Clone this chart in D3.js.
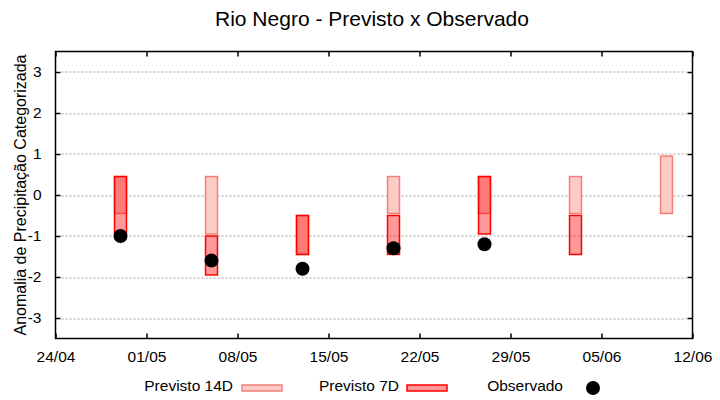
<!DOCTYPE html>
<html>
<head>
<meta charset="utf-8">
<script src="https://cdn.jsdelivr.net/npm/d3@7"></script>
<style>
  body { margin: 0; background: #fff; }
  text { font-family: "Liberation Sans", Arial, sans-serif; fill: #000; }
</style>
</head>
<body>
<div id="chart-wrapper"></div>
<script>
// data
var dates = ['2024-04-29', '2024-05-06', '2024-05-13', '2024-05-20', '2024-05-27', '2024-06-03', '2024-06-10'];
var p14_low  = [-0.45, -0.95, -1.45, -0.45, -0.45, -0.45, -0.45];
var p14_high = [ 0.45,  0.45, -0.5,   0.45,  0.45,  0.45,  0.95];
var p7_low   = [-0.95, -1.95, -1.45, -1.45, -0.95, -1.45, null];
var p7_high  = [ 0.45, -1.0,  -0.5,  -0.5,   0.45, -0.5,  null];
var observed = [-1.0, -1.6, -1.8, -1.3, -1.2, null, null];
var x_ticks = ['2024-04-24', '2024-05-01', '2024-05-08', '2024-05-15', '2024-05-22', '2024-05-29', '2024-06-05', '2024-06-12'];
var y_ticks = [-3, -2, -1, 0, 1, 2, 3];

var total_width = 720, total_height = 400;
var margin = {top: 51.5, right: 27.5, bottom: 61.5, left: 55.5};
var draw_width = total_width - margin.left - margin.right;
var draw_height = total_height - margin.top - margin.bottom;
var tick_len = 5;
var half_day = 0.46; // half box width, in days

var parse = d3.timeParse('%Y-%m-%d');
var day = 24 * 3600 * 1000;

var svg = d3.select('#chart-wrapper').append('svg')
    .attr('width', total_width)
    .attr('height', total_height);

var scale_x = d3.scaleTime()
    .domain([parse(x_ticks[0]), parse(x_ticks[x_ticks.length - 1])])
    .range([0, draw_width]);
var scale_y = d3.scaleLinear()
    .domain([-3.5, 3.5])
    .range([draw_height, 0]);

var draw_area = svg.append('g')
    .attr('transform', 'translate(' + margin.left + ',' + margin.top + ')');

// dashed grid lines
draw_area.selectAll('.grid')
    .data(y_ticks)
    .enter()
  .append('line')
    .attr('x1', tick_len + 1)
    .attr('x2', draw_width - tick_len - 1)
    .attr('y1', function(d) { return Math.round(scale_y(d)) + 0.5; })
    .attr('y2', function(d) { return Math.round(scale_y(d)) + 0.5; })
    .attr('stroke', '#a0a0a0')
    .attr('stroke-dasharray', '2,2');

var rows = dates.map(function(d, i) {
    return {date: parse(d), lo14: p14_low[i], hi14: p14_high[i],
            lo7: p7_low[i], hi7: p7_high[i], obs: observed[i]};
});

var box_x = function(d) { return scale_x(new Date(d.date.getTime() - half_day * day)); };
var box_w = function(d) {
    return scale_x(new Date(d.date.getTime() + half_day * day)) - box_x(d);
};

// previsto 14D boxes
draw_area.selectAll('.p14')
    .data(rows.filter(function(d) { return d.lo14 != null; }))
    .enter()
  .append('rect')
    .attr('x', box_x)
    .attr('width', box_w)
    .attr('y', function(d) { return scale_y(d.hi14); })
    .attr('height', function(d) { return scale_y(d.lo14) - scale_y(d.hi14); })
    .attr('fill', '#fccbc6')
    .attr('stroke', '#f08078')
    .attr('stroke-width', 1.5);

// previsto 7D boxes
draw_area.selectAll('.p7')
    .data(rows.filter(function(d) { return d.lo7 != null; }))
    .enter()
  .append('rect')
    .attr('x', box_x)
    .attr('width', box_w)
    .attr('y', function(d) { return scale_y(d.hi7); })
    .attr('height', function(d) { return scale_y(d.lo7) - scale_y(d.hi7); })
    .attr('fill', 'rgba(255,0,0,0.4)')
    .attr('stroke', '#ff0000')
    .attr('stroke-width', 1.5);

// observado
draw_area.selectAll('.obs')
    .data(rows.filter(function(d) { return d.obs != null; }))
    .enter()
  .append('circle')
    .attr('cx', function(d) { return scale_x(d.date); })
    .attr('cy', function(d) { return scale_y(d.obs); })
    .attr('r', 7)
    .attr('fill', '#000');

// frame
draw_area.append('rect')
    .attr('width', draw_width)
    .attr('height', draw_height)
    .attr('fill', 'none')
    .attr('stroke', '#000')
    .attr('stroke-width', 1.5);

// axes, ticks pointing inwards
var tick_dates = x_ticks.map(parse);
var axis_x = d3.axisBottom(scale_x)
    .tickValues(tick_dates)
    .tickFormat(d3.timeFormat('%d/%m'))
    .tickSizeInner(-tick_len)
    .tickSizeOuter(0)
    .tickPadding(12);
draw_area.append('g')
    .attr('id', 'x-axis')
    .attr('transform', 'translate(0,' + draw_height + ')')
    .call(axis_x);

draw_area.append('g')
    .call(d3.axisTop(scale_x).tickValues(tick_dates).tickFormat('')
        .tickSizeInner(-tick_len).tickSizeOuter(0));

var axis_y = d3.axisLeft(scale_y)
    .tickValues(y_ticks)
    .tickFormat(function(d) { return String(d); }) // plain hyphen minus
    .tickSizeInner(-tick_len)
    .tickSizeOuter(0)
    .tickPadding(14);
draw_area.append('g')
    .attr('id', 'y-axis')
    .call(axis_y);

draw_area.append('g')
    .attr('transform', 'translate(' + draw_width + ',0)')
    .call(d3.axisRight(scale_y).tickValues(y_ticks).tickFormat('')
        .tickSizeInner(-tick_len).tickSizeOuter(0));

svg.selectAll('.domain').remove();
svg.selectAll('.tick line').attr('stroke', '#000').attr('stroke-width', 1.5);
svg.selectAll('.tick text')
    .style('font-family', '"Liberation Sans", Arial, sans-serif')
    .style('font-size', '15.5px')
    .attr('fill', '#000');

// title and y label
svg.append('text')
    .attr('x', 372)
    .attr('y', 26)
    .attr('text-anchor', 'middle')
    .style('font-size', '21px')
    .text('Rio Negro - Previsto x Observado');

svg.append('text')
    .attr('transform', 'translate(26,' + (margin.top + draw_height / 2) + ') rotate(-90)')
    .attr('text-anchor', 'middle')
    .style('font-size', '16px')
    .text('Anomalia de Precipitação Categorizada');

// legend
var legend = [
    {label: 'Previsto 14D', right: 233, kind: 'p14', x: 242},
    {label: 'Previsto 7D', right: 399, kind: 'p7', x: 407},
    {label: 'Observado', right: 563, kind: 'obs', x: 586}
];
var lg = svg.selectAll('.legend')
    .data(legend)
    .enter()
  .append('g');
lg.append('text')
    .attr('x', function(d) { return d.right; })
    .attr('y', 391)
    .attr('text-anchor', 'end')
    .style('font-size', '15.5px')
    .text(function(d) { return d.label; });
lg.filter(function(d) { return d.kind != 'obs'; })
  .append('rect')
    .attr('x', function(d) { return d.x; })
    .attr('y', 385)
    .attr('width', 40)
    .attr('height', 6)
    .attr('fill', function(d) { return d.kind == 'p14' ? '#fccbc6' : 'rgba(255,0,0,0.4)'; })
    .attr('stroke', function(d) { return d.kind == 'p14' ? '#f08078' : '#ff0000'; })
    .attr('stroke-width', 1.5);
lg.filter(function(d) { return d.kind == 'obs'; })
  .append('circle')
    .attr('cx', function(d) { return d.x + 7; })
    .attr('cy', 388)
    .attr('r', 7)
    .attr('fill', '#000');
</script>
</body>
</html>
